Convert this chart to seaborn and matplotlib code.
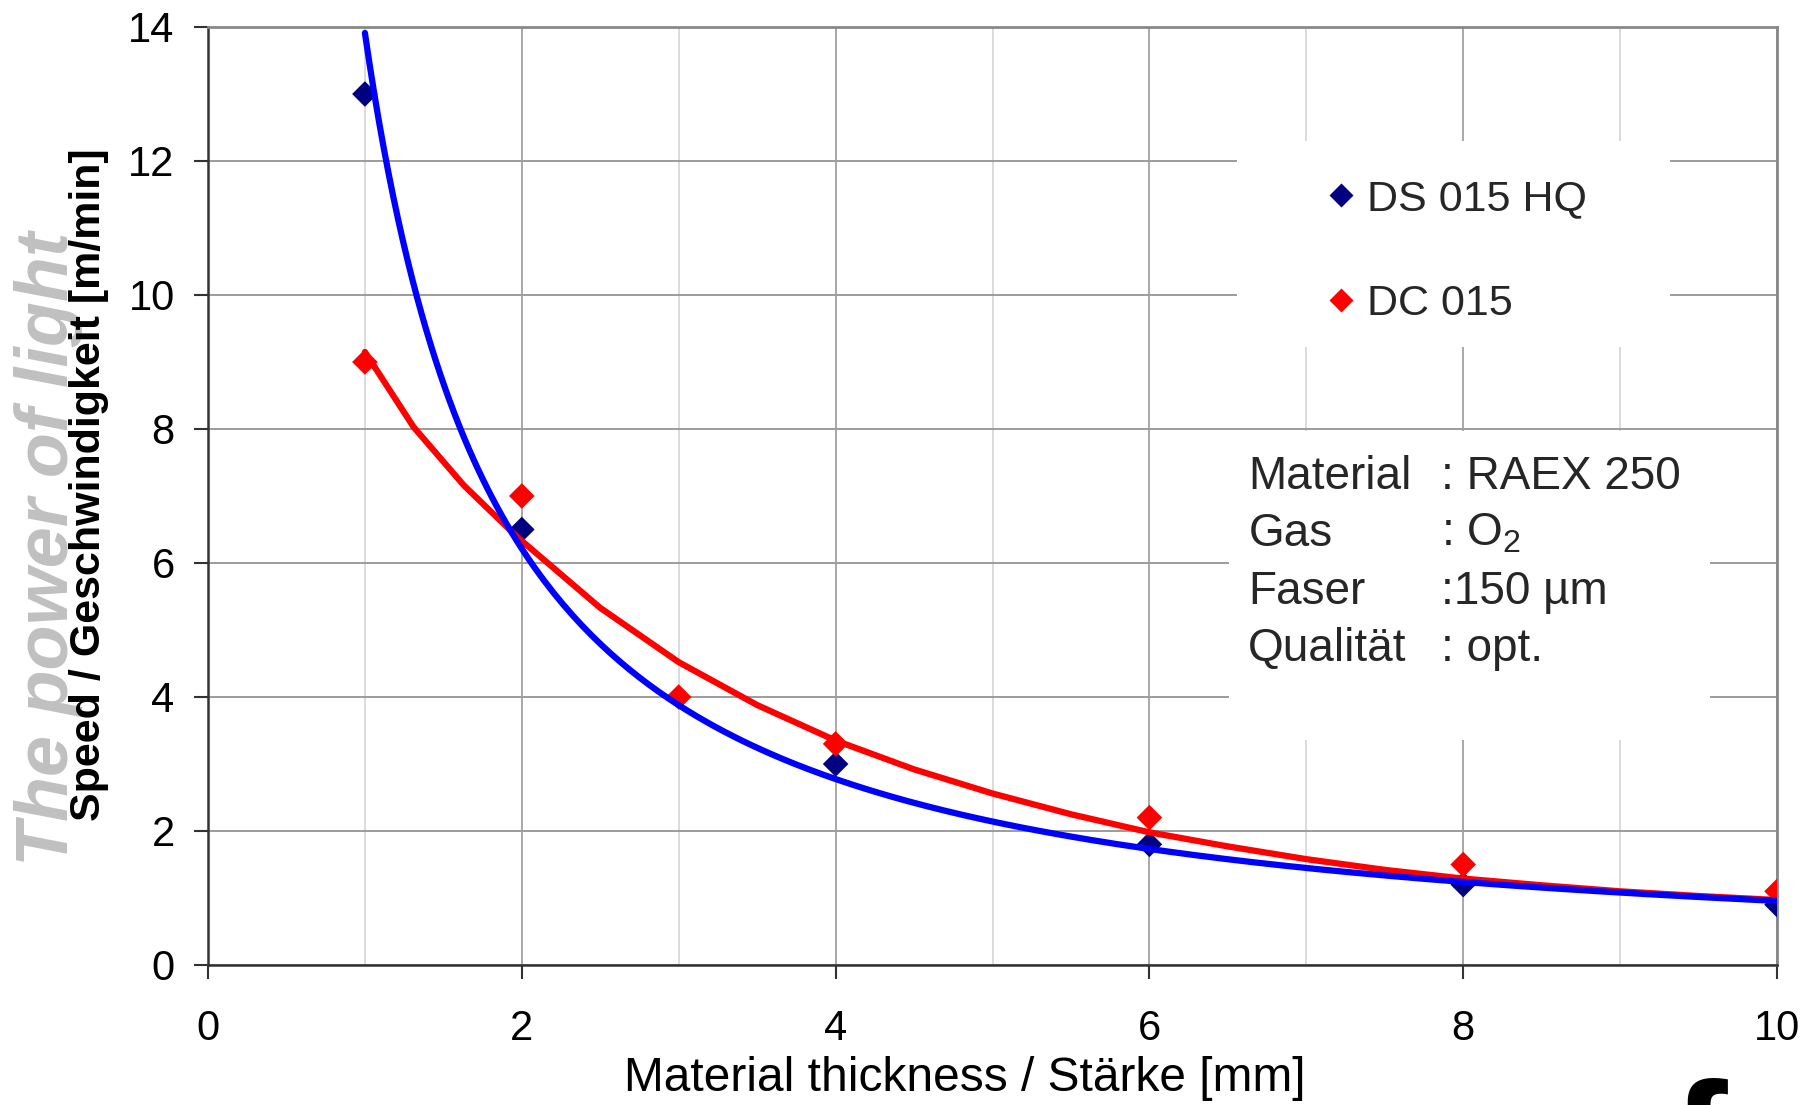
import numpy as np
import pandas as pd
import matplotlib
matplotlib.use("Agg")
import matplotlib.pyplot as plt
from matplotlib.patches import Rectangle
from matplotlib.lines import Line2D
import seaborn as sns

# ---- data ----
ds_x = [1, 2, 4, 6, 8, 10]
ds_y = [13.0, 6.5, 3.0, 1.8, 1.2, 0.9]
dc_x = [1, 2, 3, 4, 6, 8, 10]
dc_y = [9.0, 7.0, 4.0, 3.3, 2.2, 1.5, 1.1]
# DC 015 trend line as drawn in the reference
dc_trend_x = [1.0, 1.31, 1.63, 1.97, 2.5, 3.0, 3.5, 4.0, 4.5, 5.0, 5.5, 6.0, 6.5, 7.0, 7.5, 8.0, 8.5, 9.0, 9.5, 10.0]
dc_trend_y = [9.15, 8.03, 7.16, 6.39, 5.33, 4.52, 3.88, 3.35, 2.92, 2.56, 2.25, 1.98, 1.77, 1.58, 1.42, 1.29, 1.19, 1.10, 1.03, 0.97]
x_ticks = [0, 2, 4, 6, 8, 10]
y_ticks = [0, 2, 4, 6, 8, 10, 12, 14]
series_labels = ["DS 015 HQ", "DC 015"]
info_keys = ["Material", "Gas", "Faser", "Qualität"]
info_vals = [": RAEX 250", ": O$_2$", ":150 µm", ": opt."]

sns.set_theme(style="white")
plt.rcParams["font.family"] = ["Liberation Sans", "DejaVu Sans"]
plt.rcParams["mathtext.default"] = "regular"

fig = plt.figure(figsize=(18.13, 11.05), dpi=100)
ax = fig.add_axes([0.11473, 0.12670, 0.86542, 0.84887])

# power-law trend line for DS 015 HQ fitted to its points
b, ln_a = np.polyfit(np.log(ds_x), np.log(ds_y), 1)
fit_x = np.linspace(min(ds_x), max(ds_x), 300)
fit_df = pd.DataFrame({"x": fit_x, "y": np.exp(ln_a) * fit_x ** b})

ds_df = pd.DataFrame({"x": ds_x, "y": ds_y})
dc_df = pd.DataFrame({"x": dc_x, "y": dc_y})
dct_df = pd.DataFrame({"x": dc_trend_x, "y": dc_trend_y})

sns.scatterplot(data=ds_df, x="x", y="y", marker="D", s=170, color="#000080",
                edgecolor="none", ax=ax, zorder=3)
sns.scatterplot(data=dc_df, x="x", y="y", marker="D", s=170, color="#ff0000",
                edgecolor="none", ax=ax, zorder=3)
sns.lineplot(data=dct_df, x="x", y="y", color="#ff0000", lw=4.5, sort=False,
             estimator=None, ax=ax, zorder=4)
sns.lineplot(data=fit_df, x="x", y="y", color="#0000ff", lw=4.5, sort=False,
             estimator=None, ax=ax, zorder=5)

ax.set_xlim(0, 10)
ax.set_ylim(0, 14)
ax.set_xticks(x_ticks)
ax.set_xticks([1, 3, 5, 7, 9], minor=True)
ax.set_yticks(y_ticks)
ax.set_xticklabels([str(v) for v in x_ticks])
ax.set_yticklabels([str(v) for v in y_ticks])
ax.set_xlabel("")
ax.set_ylabel("")
ax.set_axisbelow(True)
ax.grid(which="major", axis="x", color="#a8a8a8", lw=1.4)
ax.grid(which="minor", axis="x", color="#dadada", lw=1.4)
ax.grid(which="major", axis="y", color="#9c9c9c", lw=1.4)

ax.tick_params(axis="both", which="major", direction="out", length=10, width=1.5,
               color="#333333", labelsize=30, labelcolor="black")
ax.tick_params(axis="x", which="major", pad=22)
ax.tick_params(axis="y", which="major", pad=14)
ax.tick_params(which="minor", length=0)
ax.tick_params(bottom=True, left=True)

for side in ["left", "bottom"]:
    ax.spines[side].set_color("#333333")
    ax.spines[side].set_linewidth(1.8)
for side in ["top", "right"]:
    ax.spines[side].set_color("#888888")
    ax.spines[side].set_linewidth(2.0)

# white boxes behind legend and info text
ax.add_patch(Rectangle((0.656, 0.659), 0.276, 0.219, transform=ax.transAxes,
                       facecolor="white", edgecolor="none", zorder=1))
ax.add_patch(Rectangle((0.651, 0.240), 0.306, 0.329, transform=ax.transAxes,
                       facecolor="white", edgecolor="none", zorder=1))

handles = [Line2D([], [], ls="none", marker="D", ms=12.5, color="#000080", mec="none"),
           Line2D([], [], ls="none", marker="D", ms=12.5, color="#ff0000", mec="none")]
leg = ax.legend(handles, series_labels, loc="upper left",
                bbox_to_anchor=(0.703, 0.856), frameon=False, fontsize=31,
                handlelength=0.6, handletextpad=0.3, labelspacing=1.51,
                borderaxespad=0)
leg.set_zorder(6)

rows_y = [0.526, 0.465, 0.403, 0.342]
for k, v, yy in zip(info_keys, info_vals, rows_y):
    ax.text(0.663, yy, k, transform=ax.transAxes, fontsize=33, va="center_baseline",
            ha="left", zorder=6)
    ax.text(0.786, yy, v, transform=ax.transAxes, fontsize=33, va="center_baseline",
            ha="left", zorder=6)

# watermark and axis titles
fig.text(0.027, 0.503, "The power of light", rotation=90, fontsize=53,
         fontweight="bold", fontstyle="italic", color="#c0c0c0",
         ha="center", va="center", zorder=0)
fig.text(0.049, 0.561, "Speed / Geschwindigkeit [m/min]", rotation=90, fontsize=31,
         fontweight="bold", color="black", ha="center", va="center")
fig.text(0.5323, 0.0244, "Material thickness / Stärke [mm]", fontsize=34.5,
         color="black", ha="center", va="center")

# partial logo glyph at bottom edge
fig.text(0.922, 1 - 1077 / 1105, "f", fontsize=120, fontweight="bold",
         color="black", ha="left", va="top")

fig.savefig("out.png", dpi=100)
